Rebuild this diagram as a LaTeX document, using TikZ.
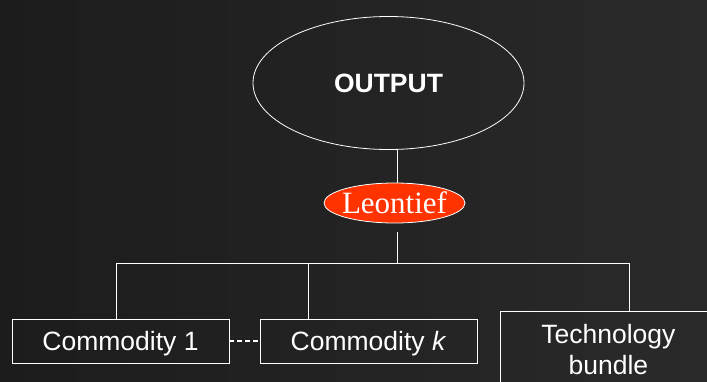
\documentclass[tikz,border=0pt]{standalone}
\usepackage{fontspec}
\setmainfont{Liberation Serif}
\setsansfont{Liberation Sans}
\usetikzlibrary{shapes.geometric}
\definecolor{boardleft}{RGB}{28,28,28}
\definecolor{boardright}{RGB}{42,42,42}
\definecolor{leored}{RGB}{255,51,0}

\begin{document}
\begin{tikzpicture}[x=1pt, y=-1pt, line width=0.8pt,
    oval/.style = {draw=white, ellipse, inner sep=0pt, text=white},
    box/.style = {draw=white, rectangle, minimum width=217pt, minimum height=44pt,
                  inner sep=0pt, text depth=0pt, text=white,
                  font=\sffamily\fontsize{26.5}{31}\selectfont},
    link/.style = {draw=white}]
  \useasboundingbox (0,0) rectangle (707,381);
  \shade[left color=boardleft, right color=boardright] (0,0) rectangle (707,381);
  \clip (0,0) rectangle (707,381);
  % top of the tree
  \node[oval, minimum width=271pt, minimum height=133pt,
        font=\sffamily\bfseries\fontsize{26.5}{31}\selectfont] (output) at (388.5,83) {OUTPUT};
  \node[oval, fill=leored, minimum width=141pt, minimum height=40pt,
        label={[text=white, font=\fontsize{31}{36}\selectfont]center:Leontief}] (leo) at (394.5,203) {};
  % inputs
  \node[box] (c1) at (120.5,341) {Commodity 1};
  \node[box] (ck) at (368.5,341) {Commodity \textit{k}};
  \node[box, anchor=north west, minimum width=216pt, inner ysep=13pt, align=center,
        text depth=] (tech) at (500,311) {Technology\\bundle};
  \coordinate (hub) at (397,263);
  \coordinate (b1) at (116,263);
  \coordinate (bk) at (308,263);
  \coordinate (bt) at (629,263);
  \draw[link] (hub |- output.south) -- (hub |- leo.north);
  \draw[link, shorten >=9pt] (hub) -- (hub |- leo.south);
  \draw[link] (b1) -- (bt);
  \draw[link] (b1) -- (b1 |- c1.north);
  \draw[link] (bk) -- (bk |- ck.north);
  \draw[link] (bt) -- (bt |- tech.north);
  \draw[link, line width=1.3pt, dash pattern=on 5pt off 3pt] (c1) -- (ck);
\end{tikzpicture}
\end{document}
